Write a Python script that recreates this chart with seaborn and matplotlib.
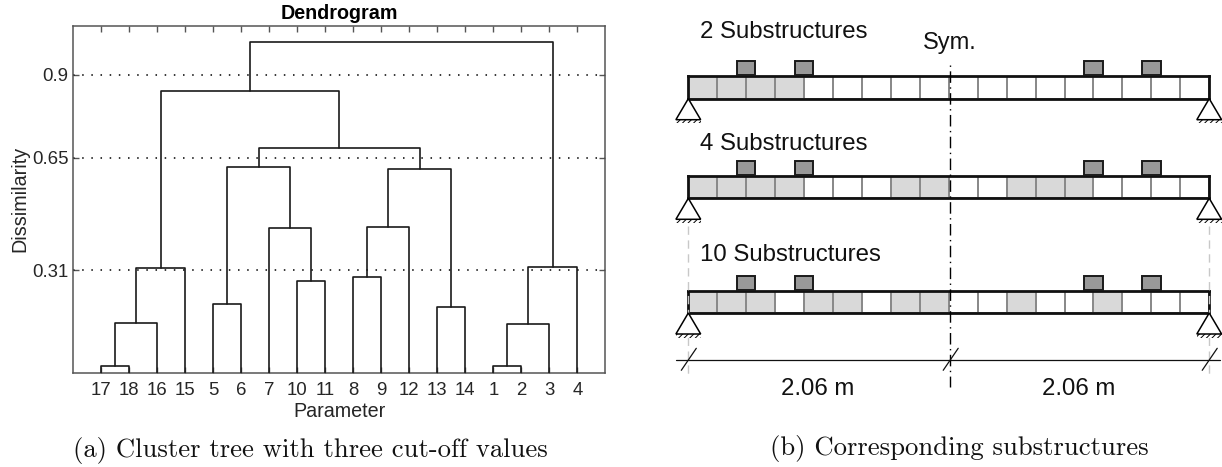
import matplotlib
matplotlib.use('Agg')
import matplotlib.pyplot as plt
from matplotlib.colors import ListedColormap
from matplotlib.patches import Rectangle, Polygon
import seaborn as sns
import numpy as np
import pandas as pd

W, H = 1222, 467

# dendrogram: leaves sit at positions 1..18, links are numbered 19, 20, ... in order
leaf_labels = [17, 18, 16, 15, 5, 6, 7, 10, 11, 8, 9, 12, 13, 14, 1, 2, 3, 4]
link_a = [1, 19, 20, 5, 8, 7, 22, 10, 26, 13, 27, 25, 21, 15, 32, 33, 31]
link_b = [2, 3, 4, 6, 9, 23, 24, 11, 12, 14, 28, 29, 30, 16, 17, 18, 34]
link_height = [0.021, 0.151, 0.318, 0.209, 0.279, 0.438, 0.622, 0.291, 0.44,
               0.199, 0.616, 0.679, 0.852, 0.021, 0.150, 0.32, 0.997]
cutoffs = [0.31, 0.65, 0.9]
cutoff_labels = ['0.31', '0.65', '0.9']

# beam schematic
n_cells = 18
row_names = ['2 Substructures', '4 Substructures', '10 Substructures']
row_shaded = [[0, 1, 2, 3],
              [0, 1, 2, 3, 7, 8, 11, 12, 13],
              [0, 1, 2, 4, 5, 7, 8, 11, 14]]
load_cells = [2, 4, 14, 16]
span_label = '2.06 m'

SANS = ['Liberation Sans', 'DejaVu Sans']
DARK = '#1a1a1a'
TEXT = '#262626'

sns.set_theme(style='ticks')
plt.rcParams['font.family'] = SANS
plt.rcParams['hatch.linewidth'] = 0.7


def px_axes(fig, x0, y0, x1, y1):
    # axes from picture pixels (y downwards)
    return fig.add_axes([x0 / W, 1 - y1 / H, (x1 - x0) / W, (y1 - y0) / H])


fig = plt.figure(figsize=(W / 100, H / 100), dpi=100)

# ---- (a) dendrogram
ax = px_axes(fig, 73.3, 25.5, 605.3, 373.3)
pos = {i: (float(i), 0.0) for i in range(1, 19)}
rows = []
for k, (a, b, h) in enumerate(zip(link_a, link_b, link_height)):
    lid = k + 19
    xa, ya = pos[a]
    xb, yb = pos[b]
    rows += [(lid, xa, ya), (lid, xa, h), (lid, xb, h), (lid, xb, yb)]
    pos[lid] = ((xa + xb) / 2, h)
df = pd.DataFrame(rows, columns=['link', 'x', 'y'])
for c in cutoffs:
    ax.axhline(c, color='black', lw=1.1, ls=(0, (1, 5)), zorder=1)
sns.lineplot(data=df, x='x', y='y', units='link', estimator=None, sort=False,
             color=DARK, linewidth=1.2, ax=ax, zorder=3)
ax.set_xlim(0, 19)
ax.set_ylim(0, 1.048)
ax.set_xticks(range(1, 19), [str(v) for v in leaf_labels], fontsize=13.4)
ax.set_yticks(cutoffs, cutoff_labels, fontsize=13.4)
ax.tick_params(direction='in', length=4.3, width=1.0, top=True, right=True,
               color='#555555', labelcolor=TEXT)
ax.tick_params(axis='x', pad=6)
ax.tick_params(axis='y', pad=3.6)
for s in ax.spines.values():
    s.set_visible(True)
    s.set_linewidth(1.1)
    s.set_color('#555555')
ax.set_xlabel('Parameter', fontsize=14.2, color=TEXT, va='center')
ax.set_ylabel('Dissimilarity', fontsize=14.2, color=TEXT, va='center')
ax.xaxis.set_label_coords(0.5, -0.111)
ax.yaxis.set_label_coords(-0.1006, 0.5)
ax.set_title('Dendrogram', fontsize=14.2, fontweight='bold', pad=5, color='black')

# ---- (b) beams, one heatmap strip per row
x_left, cell_w = 688.3, 28.94
x_right = x_left + n_cells * cell_w
beam_top = [76.3, 175.7, 290.7]
beam_bottom = [98.7, 198.3, 313.0]
name_y = [31.5, 143.5, 255]
for shaded, t, b in zip(row_shaded, beam_top, beam_bottom):
    strip = np.zeros((1, n_cells))
    strip[0, shaded] = 1
    bx = px_axes(fig, x_left, t, x_right, b)
    sns.heatmap(strip, vmin=0, vmax=1, cmap=ListedColormap(['white', '#d9d9d9']), cbar=False,
                linewidths=1.1, linecolor='#8a8a8a', xticklabels=False, yticklabels=False, ax=bx)
    for s in bx.spines.values():
        s.set_visible(True)
        s.set_linewidth(2.0)
        s.set_color('#111111')

# overlay, x in cells along the beam and y in pixels from the top
ov = px_axes(fig, 640, 0, W, H)
ov.set_xlim((640 - x_left) / cell_w, (W - x_left) / cell_w)
ov.set_ylim(H, 0)
ov.axis('off')
ov.patch.set_alpha(0)

tri_half = 12.4 / cell_w
for t, b, name, ny in zip(beam_top, beam_bottom, row_names, name_y):
    ov.text((700 - x_left) / cell_w, ny, name, fontsize=17.3, va='center', ha='left', color='#111111')
    for c in load_cells:
        ov.add_patch(Rectangle((c - 9.3 / cell_w, t - 15), 18.6 / cell_w, 14, fc='#999999',
                               ec='#1a1a1a', lw=1.4, zorder=4))
    for c in (0, n_cells):
        ov.add_patch(Polygon([(c, b), (c - tri_half, b + 21), (c + tri_half, b + 21)], closed=True,
                             fc='white', ec='black', lw=1.1, zorder=4))
        ov.add_patch(Rectangle((c - tri_half, b + 21), 2 * tri_half, 3.6, fc='white', ec='black',
                               hatch='//////', lw=0, zorder=3))

# symmetry and span lines
sym_x = 9.05
ov.plot([sym_x, sym_x], [65, 386.7], color='black', lw=1.0, ls=(0, (1, 3.2, 8.3, 3.2)), zorder=5)
for c in (0, n_cells):
    ov.plot([c, c], [226, 378], color='#c8c8c8', lw=1.0, ls=(0, (6, 4)), zorder=1)
ov.text(sym_x, 43.5, 'Sym.', fontsize=17, ha='center', va='center', color='#111111')
ov.plot([-0.43, 18.37], [360, 360], color='#111111', lw=0.9)
for c in (0, sym_x, n_cells):
    ov.plot([c - 7 / cell_w, c + 8 / cell_w], [370.3, 348.3], color='#111111', lw=0.9, zorder=6)
ov.text((817.3 - x_left) / cell_w, 389, span_label, fontsize=17.3, ha='center', va='center', color='#111111')
ov.text((1078.3 - x_left) / cell_w, 389, span_label, fontsize=17.3, ha='center', va='center', color='#111111')

# captions
fig.text(310.5 / W, 1 - 450 / H, '(a) Cluster tree with three cut-off values', family='cmr10',
         fontsize=19.2, ha='center', va='center', color='#111111')
fig.text(959.3 / W, 1 - 449 / H, '(b) Corresponding substructures', family='cmr10',
         fontsize=19.2, ha='center', va='center', color='#111111')

plt.savefig('out.png', dpi=100)
